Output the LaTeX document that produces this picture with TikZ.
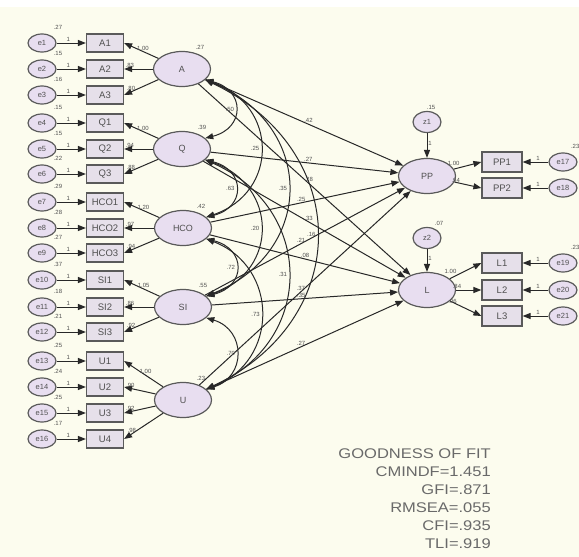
\documentclass[tikz,border=0pt]{standalone}
\usepackage{fontspec}
\setmainfont{Liberation Sans}
\newfontfamily\gofont[FakeStretch=1.18]{Liberation Sans}
\usetikzlibrary{arrows.meta,shapes.geometric}
\definecolor{bg}{RGB}{252,252,238}
\definecolor{lav}{RGB}{232,222,240}
\definecolor{boxf}{RGB}{230,224,234}
\definecolor{edgec}{RGB}{90,90,90}
\definecolor{ln}{RGB}{40,40,40}
\definecolor{txt}{RGB}{80,80,80}
\begin{document}
\begin{tikzpicture}[x=1pt,y=-1pt,
 obs/.style={draw=edgec, line width=1.2pt, fill=boxf, minimum width=37pt, minimum height=18pt, inner sep=0pt, font=\fontsize{9.5}{9.5}\selectfont, text=txt},
 err/.style={ellipse, draw=edgec, line width=1.2pt, fill=lav, minimum width=28pt, minimum height=18pt, inner sep=0pt, font=\fontsize{7.5}{7.5}\selectfont, text=txt},
 lat/.style={ellipse, draw=edgec, line width=1.2pt, fill=lav, minimum width=57pt, minimum height=35pt, inner sep=0pt, font=\fontsize{9}{9}\selectfont, text=txt},
 arr/.style={draw=ln, line width=1pt, -{Triangle[length=8pt,width=6pt]}},
 cov/.style={draw=ln, line width=1pt, {Triangle[length=8pt,width=6pt]}-{Triangle[length=8pt,width=6pt]}},
 num/.style={font=\fontsize{6}{6}\selectfont, text=txt, inner sep=0.8pt},
 gof/.style={font=\gofont\fontsize{14}{18}\selectfont, text={rgb,255:red,105;green,105;blue,105}, inner sep=0pt, align=right},
]
\fill[bg] (0,0) rectangle (579,557);
\fill[white] (0,0) rectangle (579,7);
\useasboundingbox (0,0) rectangle (579,557);

% latent factors
\node[lat] (A)   at (182,69)  {A};
\node[lat] (Q)   at (182,149) {Q};
\node[lat] (HCO) at (183,228) {HCO};
\node[lat] (SI)  at (183,307) {SI};
\node[lat] (U)   at (183,400) {U};
\node[num, anchor=south] at ([xshift=18pt]A.north)   {.27};
\node[num, anchor=south] at ([xshift=20pt]Q.north)   {.39};
\node[num, anchor=south] at ([xshift=18pt]HCO.north) {.42};
\node[num, anchor=south] at ([xshift=20pt]SI.north)  {.55};
\node[num, anchor=south] at ([xshift=18pt]U.north)   {.23};

% indicators and errors (left)
\foreach \t/\y/\v/\l/\f/\p [count=\i] in {
  A1/43/.27/1.00/A/0.45, A2/69/.15/.83/A/0.8, A3/95/.16/.80/A/0.8,
  Q1/123/.15/1.00/Q/0.45, Q2/149/.15/.94/Q/0.8, Q3/174/.22/.88/Q/0.8,
  HCO1/202/.29/1.20/HCO/0.45, HCO2/228/.28/.97/HCO/0.8, HCO3/253/.27/.94/HCO/0.8,
  SI1/280/.37/1.05/SI/0.45, SI2/307/.18/.86/SI/0.8, SI3/332/.21/.92/SI/0.8,
  U1/361/.25/1.00/U/0.45, U2/387/.24/.90/U/0.8, U3/413/.25/.92/U/0.8, U4/439/.17/.98/U/0.8}{
  \node[obs] (b\i) at (105,\y) {\t};
  \node[err] (e\i) at (42,\y) {e\i};
  \draw[arr] (e\i) -- node[num, above, pos=0.4] {1} (b\i);
  \node[num] at (58,\y-16) {\v};
  \draw[arr] (\f) -- node[num, above, pos=\p] {\l} (b\i.east);
}

% endogenous factors
\node[lat] (PP) at (427,176) {PP};
\node[lat] (L)  at (427,290) {L};
\node[err, minimum height=21pt] (z1) at (427,122) {z1};
\node[err, minimum height=21pt] (z2) at (427,238) {z2};
\draw[arr] (z1) -- node[num, right, pos=0.4] {1} (PP);
\draw[arr] (z2) -- node[num, right, pos=0.4] {1} (L);
\node[num, anchor=south] at ([xshift=4pt]z1.north) {.15};
\node[num, anchor=south] at ([xshift=12pt]z2.north) {.07};

\foreach \t/\y/\l/\f [count=\i from 17] in {PP1/162/1.00/PP, PP2/188/.94/PP, L1/263/1.00/L, L2/290/.84/L, L3/316/.96/L}{
  \node[obs, minimum width=40pt, minimum height=20pt] (b\i) at (502,\y) {\t};
  \node[err] (e\i) at (563,\y) {e\i};
  \draw[arr] (e\i) -- node[num, above, pos=0.4] {1} (b\i);
  \draw[arr] (\f) -- node[num, above left, pos=0.25] {\l} (b\i.west);
}
\node[num, anchor=west] at (570,146) {.23};
\node[num, anchor=west] at (570,247) {.23};

% structural paths
\draw[arr] (A)   -- node[num, above, pos=0.52] {.42} (PP);
\draw[arr] (Q)   -- node[num, above, pos=0.52] {.27} (PP);
\draw[arr] (HCO) -- node[num, above, pos=0.48] {.25} (PP);
\draw[arr] (SI)  -- node[num, above, pos=0.48] {.21} (PP);
\draw[arr] (U)   -- node[num, above, pos=0.48] {.37} (PP);
\draw[arr] (A)   -- node[num, above, pos=0.52] {.28} (L);
\draw[arr] (Q)   -- node[num, above, pos=0.52] {.33} (L);
\draw[arr] (HCO) -- node[num, above, pos=0.5] {.08} (L);
\draw[arr] (SI)  -- node[num, above, pos=0.48] {.35} (L);
\draw[arr] (U)   -- node[num, above, pos=0.48] {.27} (L);

% covariances
\draw[cov] (A.-25) .. controls +(40,10) and +(40,-10) .. node[num, left] {.50} (Q.25);
\draw[cov] (Q.-25) .. controls +(40,10) and +(40,-10) .. node[num, left] {.63} (HCO.25);
\draw[cov] (HCO.-25) .. controls +(40,10) and +(40,-10) .. node[num, left] {.72} (SI.25);
\draw[cov] (SI.-25) .. controls +(40,12) and +(40,-12) .. node[num, left] {.70} (U.25);
\draw[cov] (A.-25) .. controls +(73,25) and +(73,-25) .. node[num, left] {.25} (HCO.25);
\draw[cov] (Q.-25) .. controls +(73,25) and +(73,-25) .. node[num, left] {.20} (SI.25);
\draw[cov] (HCO.-25) .. controls +(73,28) and +(73,-28) .. node[num, left] {.73} (U.25);
\draw[cov] (A.-25) .. controls +(110,45) and +(110,-45) .. node[num, left] {.35} (SI.25);
\draw[cov] (Q.-25) .. controls +(110,48) and +(110,-48) .. node[num, left] {.31} (U.25);
\draw[cov] (A.-25) .. controls +(148,70) and +(148,-70) .. node[num, left] {.16} (U.25);

% goodness of fit
\node[gof, anchor=north east] (fit) at (491,449) {GOODNESS OF FIT\\CMINDF=1.451\\GFI=.871\\RMSEA=.055\\CFI=.935\\TLI=.919};
\end{tikzpicture}
\end{document}
